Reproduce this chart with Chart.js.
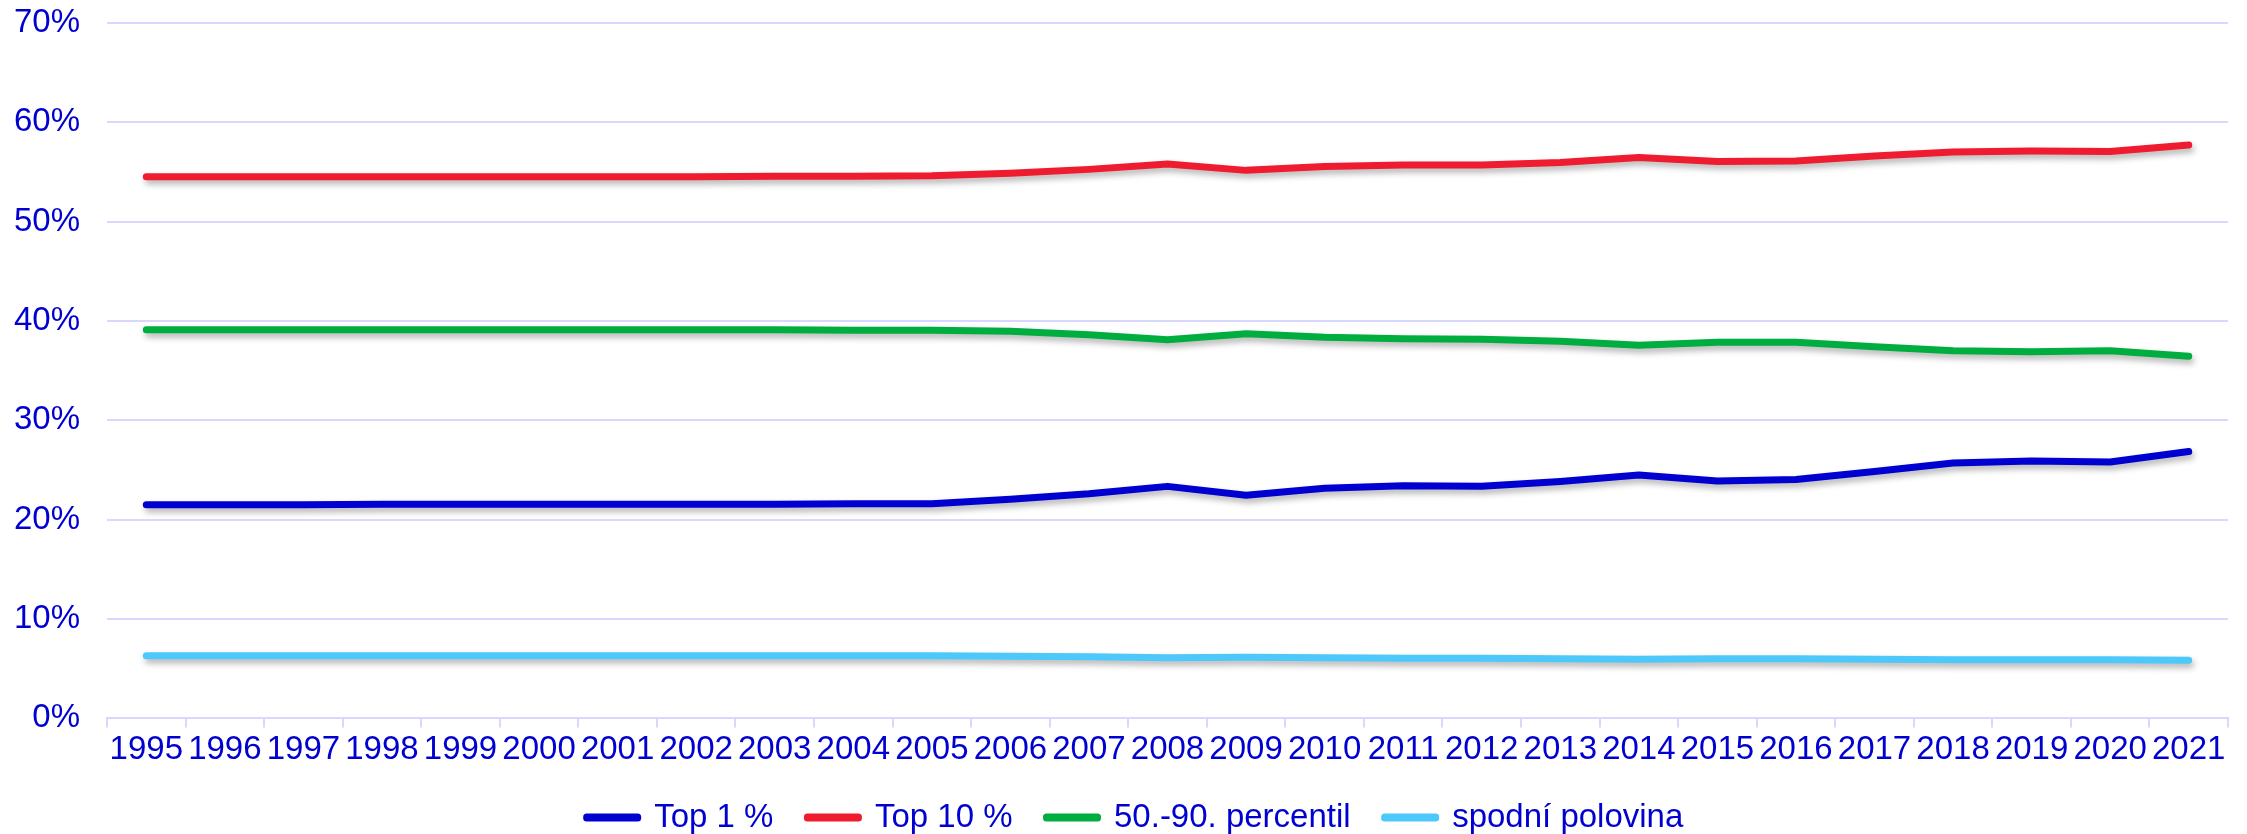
<!DOCTYPE html>
<html>
<head>
<meta charset="utf-8">
<script src="https://cdn.jsdelivr.net/npm/chart.js@4.4.1/dist/chart.umd.min.js"></script>
<style>
  html, body { margin: 0; padding: 0; background: #fff; }
  #wrap { width: 2247px; height: 834px; position: relative; }
</style>
</head>
<body>
<div id="wrap"><canvas id="share-chart"></canvas></div>
<script>
// roky
const years = ["1995","1996","1997","1998","1999","2000","2001","2002","2003","2004","2005","2006","2007","2008","2009","2010","2011","2012","2013","2014","2015","2016","2017","2018","2019","2020","2021"];

// podíly v %
const top1 = [21.5, 21.5, 21.5, 21.55, 21.55, 21.55, 21.55, 21.55, 21.55, 21.6, 21.6, 22.05, 22.6, 23.35, 22.45, 23.15, 23.4, 23.35, 23.85, 24.5, 23.9, 24.05, 24.85, 25.7, 25.9, 25.8, 26.85];
const top10 = [54.5, 54.5, 54.5, 54.5, 54.5, 54.5, 54.5, 54.5, 54.55, 54.55, 54.6, 54.85, 55.25, 55.8, 55.15, 55.55, 55.7, 55.7, 55.95, 56.45, 56.05, 56.1, 56.6, 57.0, 57.1, 57.05, 57.7];
const p50to90 = [39.1, 39.1, 39.1, 39.1, 39.1, 39.1, 39.1, 39.1, 39.1, 39.05, 39.05, 38.95, 38.6, 38.1, 38.7, 38.35, 38.2, 38.15, 37.95, 37.55, 37.85, 37.85, 37.4, 37.0, 36.9, 37.0, 36.45];
const bottom50 = [6.3, 6.3, 6.3, 6.3, 6.3, 6.3, 6.3, 6.3, 6.3, 6.3, 6.3, 6.25, 6.2, 6.1, 6.15, 6.1, 6.05, 6.05, 6.0, 5.95, 6.0, 6.0, 5.95, 5.9, 5.9, 5.9, 5.85];

const seriesNames = ["Top 1 %", "Top 10 %", "50.-90. percentil", "spodní polovina"];
const yTicks = [0, 10, 20, 30, 40, 50, 60, 70];

const textBlue = "#0000D0";
const gridColor = "#D8D8FF";

function lineSet(label, data, color) {
  return {
    label: label,
    data: data,
    borderColor: color,
    backgroundColor: color,
    borderWidth: 7,
    pointRadius: 0,
    tension: 0,
    borderCapStyle: "round",
    borderJoinStyle: "round",
  };
}

// stín pod čarami jako v Excelu
const shadow = {
  id: "shadow",
  beforeDatasetDraw(chart) {
    const ctx = chart.ctx;
    ctx.save();
    ctx.shadowColor = "rgba(0,0,0,0.3)";
    ctx.shadowBlur = 6;
    ctx.shadowOffsetX = 2;
    ctx.shadowOffsetY = 4;
  },
  afterDatasetDraw(chart) {
    chart.ctx.restore();
  },
};

// legenda je v originále trochu víc vpravo
const legendShift = {
  id: "legendShift",
  afterLayout(chart) {
    if (chart.legend) {
      chart.legend.left += 21;
      chart.legend.right += 21;
    }
  },
};

Chart.defaults.font.family = "'Liberation Sans', Arial, sans-serif";
Chart.defaults.font.size = 33;
Chart.defaults.color = textBlue;

new Chart(document.getElementById("share-chart"), {
  type: "line",
  data: {
    labels: years,
    datasets: [
      lineSet(seriesNames[0], top1, "#0000D0"),
      lineSet(seriesNames[1], top10, "#EE1C2E"),
      lineSet(seriesNames[2], p50to90, "#00AD3F"),
      lineSet(seriesNames[3], bottom50, "#4DC8FA"),
    ],
  },
  plugins: [shadow, legendShift],
  options: {
    responsive: true,
    maintainAspectRatio: false,
    animation: false,
    layout: { padding: { left: 0, right: 19, top: 0, bottom: -10 } },
    plugins: {
      legend: {
        position: "bottom",
        labels: {
          boxWidth: 51,
          boxHeight: 1,
          padding: 34,
          color: textBlue,
          font: { size: 33 },
        },
      },
      tooltip: { enabled: false },
    },
    scales: {
      x: {
        offset: true,
        afterFit: (axis) => { axis.height -= 6; },
        border: { display: true, color: gridColor, width: 2 },
        grid: {
          offset: true,
          drawOnChartArea: false,
          drawTicks: true,
          tickLength: 9,
          color: gridColor,
          lineWidth: 2,
        },
        ticks: { color: textBlue, padding: 3, maxRotation: 0, autoSkip: false },
      },
      y: {
        min: 0,
        max: 70,
        afterBuildTicks: (axis) => { axis.ticks = yTicks.map((v) => ({ value: v })); },
        afterFit: (axis) => { axis.width = 107; },
        border: { display: false },
        grid: {
          color: gridColor,
          lineWidth: 2,
          drawTicks: true,
          tickLength: 24,
          tickColor: "rgba(0,0,0,0)",
        },
        ticks: {
          color: textBlue,
          padding: 3,
          callback: (v) => v + "%",
        },
      },
    },
  },
});
</script>
</body>
</html>
